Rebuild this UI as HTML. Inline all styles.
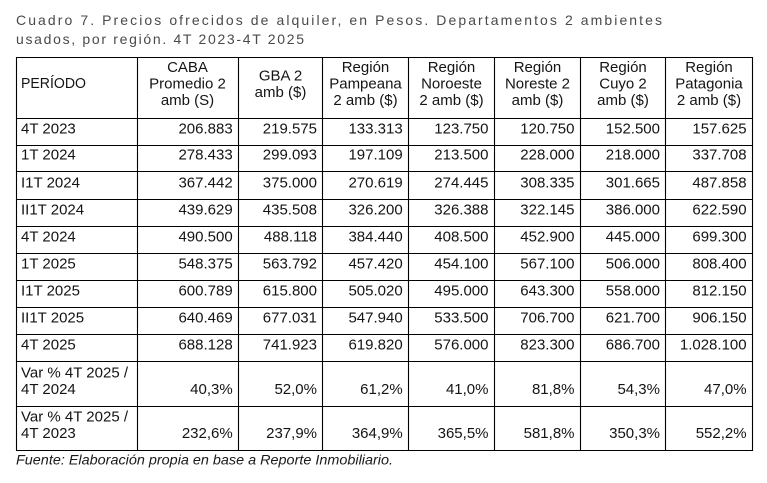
<!DOCTYPE html>
<html><head><meta charset="utf-8"><style>
html,body{margin:0;padding:0;background:#fff;}
svg{display:block;}
text{font-family:"Liberation Sans",sans-serif;}
.t{font-size:14px;fill:#4a4a4a;}
.c{font-size:15px;fill:#141414;}
.h{font-size:15px;fill:#141414;text-anchor:middle;}
.v{font-size:15px;fill:#141414;text-anchor:end;}
.f{font-size:13.5px;fill:#1a1a1a;font-style:italic;}
line{stroke:#000;stroke-width:1.1;}
</style></head><body>
<svg width="767" height="483" viewBox="0 0 767 483" xmlns="http://www.w3.org/2000/svg">
<rect width="767" height="483" fill="#fff"/>
<text class="t" x="16" y="25" textLength="646" lengthAdjust="spacing">Cuadro 7. Precios ofrecidos de alquiler, en Pesos. Departamentos 2 ambientes</text>
<text class="t" x="16" y="44" textLength="288" lengthAdjust="spacing">usados, por región. 4T 2023-4T 2025</text>

<!-- horizontal lines -->
<line x1="16" x2="753" y1="57.5" y2="57.5"/>
<line x1="16" x2="753" y1="118.5" y2="118.5"/>
<line x1="16" x2="753" y1="145.5" y2="145.5"/>
<line x1="16" x2="753" y1="171.5" y2="171.5"/>
<line x1="16" x2="753" y1="199.5" y2="199.5"/>
<line x1="16" x2="753" y1="226.5" y2="226.5"/>
<line x1="16" x2="753" y1="253.5" y2="253.5"/>
<line x1="16" x2="753" y1="280.5" y2="280.5"/>
<line x1="16" x2="753" y1="307.5" y2="307.5"/>
<line x1="16" x2="753" y1="334.5" y2="334.5"/>
<line x1="16" x2="753" y1="361.5" y2="361.5"/>
<line x1="16" x2="753" y1="406.5" y2="406.5"/>
<line x1="16" x2="753" y1="450.5" y2="450.5"/>
<!-- vertical lines -->
<line y1="57" y2="451" x1="16.5" x2="16.5"/>
<line y1="57" y2="451" x1="137.5" x2="137.5"/>
<line y1="57" y2="451" x1="238.5" x2="238.5"/>
<line y1="57" y2="451" x1="322.5" x2="322.5"/>
<line y1="57" y2="451" x1="408.5" x2="408.5"/>
<line y1="57" y2="451" x1="494.5" x2="494.5"/>
<line y1="57" y2="451" x1="580.5" x2="580.5"/>
<line y1="57" y2="451" x1="665.5" x2="665.5"/>
<line y1="57" y2="451" x1="752.5" x2="752.5"/>

<!-- header -->
<text class="c" x="21" y="88" textLength="65" lengthAdjust="spacingAndGlyphs">PERÍODO</text>
<text class="h" x="187.5" y="72">CABA</text>
<text class="h" x="187.5" y="88.5">Promedio 2</text>
<text class="h" x="187.5" y="105">amb (S)</text>
<text class="h" x="280.5" y="80.5">GBA 2</text>
<text class="h" x="280.5" y="97">amb ($)</text>
<text class="h" x="365.5" y="72">Región</text>
<text class="h" x="365.5" y="88.5">Pampeana</text>
<text class="h" x="365.5" y="105">2 amb ($)</text>
<text class="h" x="451.5" y="72">Región</text>
<text class="h" x="451.5" y="88.5">Noroeste</text>
<text class="h" x="451.5" y="105">2 amb ($)</text>
<text class="h" x="537.5" y="72">Región</text>
<text class="h" x="537.5" y="88.5">Noreste 2</text>
<text class="h" x="537.5" y="105">amb ($)</text>
<text class="h" x="623" y="72">Región</text>
<text class="h" x="623" y="88.5">Cuyo 2</text>
<text class="h" x="623" y="105">amb ($)</text>
<text class="h" x="709" y="72">Región</text>
<text class="h" x="709" y="88.5">Patagonia</text>
<text class="h" x="709" y="105">2 amb ($)</text>

<!-- rows -->
<g>
<text class="c" x="21" y="133.3">4T 2023</text>
<text class="v" x="232.7" y="133.3">206.883</text><text class="v" x="317" y="133.3">219.575</text><text class="v" x="402.7" y="133.3">133.313</text><text class="v" x="488.5" y="133.3">123.750</text><text class="v" x="574.5" y="133.3">120.750</text><text class="v" x="660" y="133.3">152.500</text><text class="v" x="746.6" y="133.3">157.625</text>

<text class="c" x="21" y="159.5">1T 2024</text>
<text class="v" x="232.7" y="159.5">278.433</text><text class="v" x="317" y="159.5">299.093</text><text class="v" x="402.7" y="159.5">197.109</text><text class="v" x="488.5" y="159.5">213.500</text><text class="v" x="574.5" y="159.5">228.000</text><text class="v" x="660" y="159.5">218.000</text><text class="v" x="746.6" y="159.5">337.708</text>

<text class="c" x="21" y="187.3">I1T 2024</text>
<text class="v" x="232.7" y="187.3">367.442</text><text class="v" x="317" y="187.3">375.000</text><text class="v" x="402.7" y="187.3">270.619</text><text class="v" x="488.5" y="187.3">274.445</text><text class="v" x="574.5" y="187.3">308.335</text><text class="v" x="660" y="187.3">301.665</text><text class="v" x="746.6" y="187.3">487.858</text>

<text class="c" x="21" y="214.3">II1T 2024</text>
<text class="v" x="232.7" y="214.3">439.629</text><text class="v" x="317" y="214.3">435.508</text><text class="v" x="402.7" y="214.3">326.200</text><text class="v" x="488.5" y="214.3">326.388</text><text class="v" x="574.5" y="214.3">322.145</text><text class="v" x="660" y="214.3">386.000</text><text class="v" x="746.6" y="214.3">622.590</text>

<text class="c" x="21" y="241.3">4T 2024</text>
<text class="v" x="232.7" y="241.3">490.500</text><text class="v" x="317" y="241.3">488.118</text><text class="v" x="402.7" y="241.3">384.440</text><text class="v" x="488.5" y="241.3">408.500</text><text class="v" x="574.5" y="241.3">452.900</text><text class="v" x="660" y="241.3">445.000</text><text class="v" x="746.6" y="241.3">699.300</text>

<text class="c" x="21" y="268.3">1T 2025</text>
<text class="v" x="232.7" y="268.3">548.375</text><text class="v" x="317" y="268.3">563.792</text><text class="v" x="402.7" y="268.3">457.420</text><text class="v" x="488.5" y="268.3">454.100</text><text class="v" x="574.5" y="268.3">567.100</text><text class="v" x="660" y="268.3">506.000</text><text class="v" x="746.6" y="268.3">808.400</text>

<text class="c" x="21" y="295.3">I1T 2025</text>
<text class="v" x="232.7" y="295.3">600.789</text><text class="v" x="317" y="295.3">615.800</text><text class="v" x="402.7" y="295.3">505.020</text><text class="v" x="488.5" y="295.3">495.000</text><text class="v" x="574.5" y="295.3">643.300</text><text class="v" x="660" y="295.3">558.000</text><text class="v" x="746.6" y="295.3">812.150</text>

<text class="c" x="21" y="322.3">II1T 2025</text>
<text class="v" x="232.7" y="322.3">640.469</text><text class="v" x="317" y="322.3">677.031</text><text class="v" x="402.7" y="322.3">547.940</text><text class="v" x="488.5" y="322.3">533.500</text><text class="v" x="574.5" y="322.3">706.700</text><text class="v" x="660" y="322.3">621.700</text><text class="v" x="746.6" y="322.3">906.150</text>

<text class="c" x="21" y="349.3">4T 2025</text>
<text class="v" x="232.7" y="349.3">688.128</text><text class="v" x="317" y="349.3">741.923</text><text class="v" x="402.7" y="349.3">619.820</text><text class="v" x="488.5" y="349.3">576.000</text><text class="v" x="574.5" y="349.3">823.300</text><text class="v" x="660" y="349.3">686.700</text><text class="v" x="746.6" y="349.3">1.028.100</text>

<text class="c" x="21" y="377.6">Var % 4T 2025 /</text>
<text class="c" x="21" y="394">4T 2024</text>
<text class="v" x="232.7" y="394">40,3%</text><text class="v" x="317" y="394">52,0%</text><text class="v" x="402.7" y="394">61,2%</text><text class="v" x="488.5" y="394">41,0%</text><text class="v" x="574.5" y="394">81,8%</text><text class="v" x="660" y="394">54,3%</text><text class="v" x="746.6" y="394">47,0%</text>

<text class="c" x="21" y="421.6">Var % 4T 2025 /</text>
<text class="c" x="21" y="438">4T 2023</text>
<text class="v" x="232.7" y="438">232,6%</text><text class="v" x="317" y="438">237,9%</text><text class="v" x="402.7" y="438">364,9%</text><text class="v" x="488.5" y="438">365,5%</text><text class="v" x="574.5" y="438">581,8%</text><text class="v" x="660" y="438">350,3%</text><text class="v" x="746.6" y="438">552,2%</text>
</g>

<text class="f" x="16" y="464.5" textLength="377" lengthAdjust="spacingAndGlyphs">Fuente: Elaboración propia en base a Reporte Inmobiliario.</text>
</svg>
</body></html>
